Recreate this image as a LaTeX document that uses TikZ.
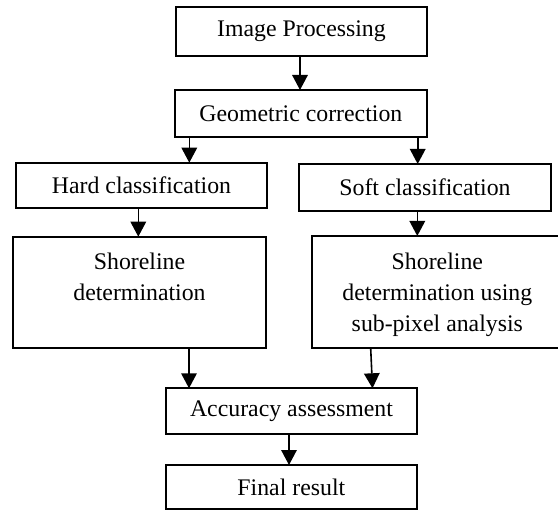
\documentclass[tikz,border=0pt]{standalone}
\usepackage{fontspec}
\setmainfont{Liberation Serif}
\usetikzlibrary{arrows.meta}
\begin{document}
\begin{tikzpicture}[x=1pt,y=-1pt,
  box/.style={draw, line width=2pt, inner sep=0pt, outer sep=0pt, font=\fontsize{23.8}{31.5}\selectfont},
  arr/.style={line width=1.6pt, -{Triangle[length=15pt,width=15.5pt]}}]
\clip (0,0) rectangle (558,511);
\node[box, minimum width=251pt, minimum height=48.4pt] (b1) at (301.5,31.5) {Image Processing};
\node[box, minimum width=251.7pt, minimum height=46.7pt] (b2) at (300.85,113.35) {Geometric correction};
\node[box, minimum width=251.6pt, minimum height=45.6pt] (b3) at (141.5,185.5) {Hard classification};
\node[box, minimum width=251.4pt, minimum height=46.7pt] (b4) at (425,187.35) {Soft classification};
\node[box, minimum width=252.4pt, minimum height=111pt] (b5) at (139.5,292.2)
  {\parbox[c][111pt][t]{252.4pt}{\centering\rule{0pt}{32.6pt}Shoreline\\determination}};
\node[box, minimum width=251.3pt, minimum height=112.3pt] (b6) at (437.35,292.15)
  {\parbox[c][112.3pt][t]{251.3pt}{\centering\rule{0pt}{33pt}Shoreline\\determination using\\sub-pixel analysis}};
\node[box, minimum width=251.6pt, minimum height=45.7pt] (b7) at (291.5,411.15) {Accuracy assessment};
\node[box, minimum width=251.3pt, minimum height=44.3pt] (b8) at (291.35,487.15) {Final result};
\coordinate (x1) at (300,0);
\coordinate (x2) at (189.3,0);
\coordinate (x3) at (417.7,0);
\coordinate (x4) at (138.3,0);
\coordinate (x5) at (417.3,0);
\coordinate (x6) at (189,0);
\coordinate (x7a) at (370.7,0);
\coordinate (x7b) at (372.5,0);
\coordinate (x8) at (289,0);
\draw[arr] (b1.south -| x1) -- (b2.north -| x1);
\draw[arr] (b2.south -| x2) -- (b3.north -| x2);
\draw[arr] (b2.south -| x3) -- (b4.north -| x3);
\draw[arr] (b3.south -| x4) -- (b5.north -| x4);
\draw[arr] (b4.south -| x5) -- (b6.north -| x5);
\draw[arr] (b5.south -| x6) -- (b7.north -| x6);
\draw[arr] (b6.south -| x7a) -- (b7.north -| x7b);
\draw[arr] (b7.south -| x8) -- (b8.north -| x8);
\end{tikzpicture}
\end{document}
